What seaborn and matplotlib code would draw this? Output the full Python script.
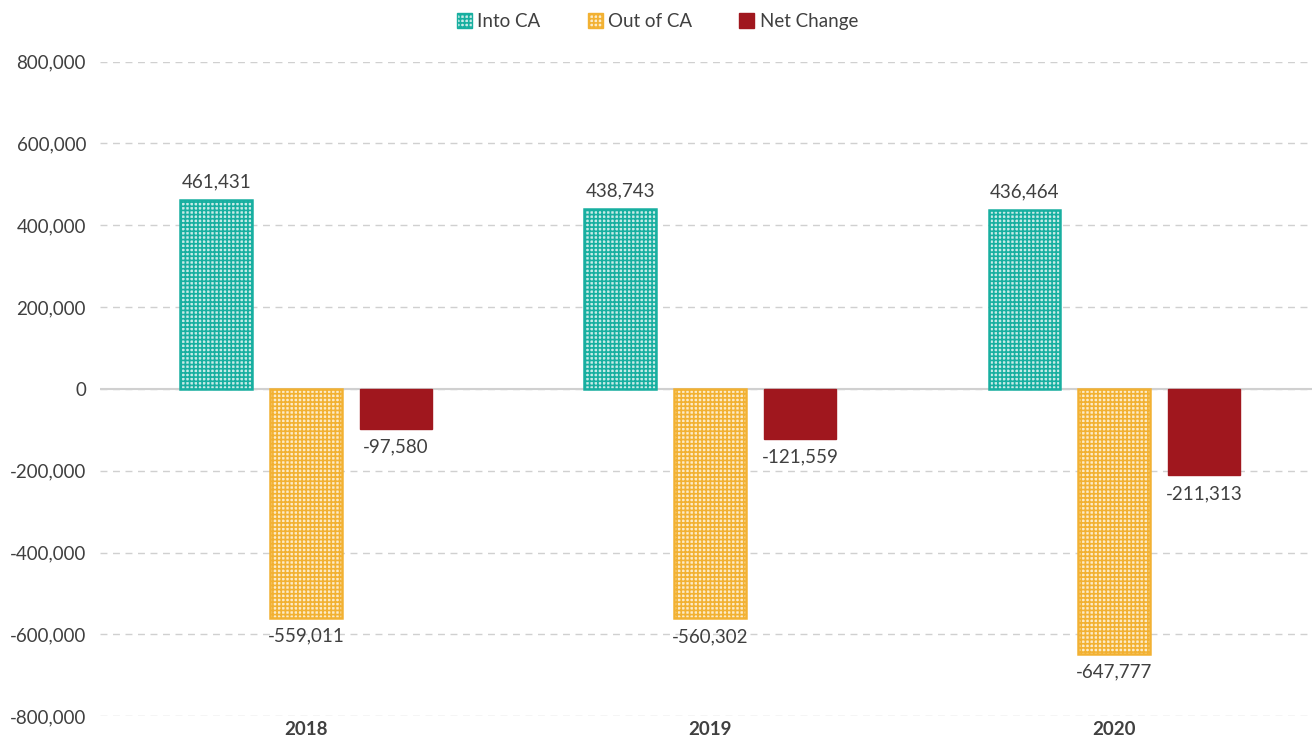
import pandas as pd
import seaborn as sns
import matplotlib.pyplot as plt
from matplotlib.patches import Patch
from matplotlib.ticker import FuncFormatter

years = ['2018', '2019', '2020']
into_ca = [461431, 438743, 436464]
out_of_ca = [-559011, -560302, -647777]
net_change = [-97580, -121559, -211313]

series_names = ['Into CA', 'Out of CA', 'Net Change']
colors = ['#17AFA0', '#F2B132', '#A0171E']
tints = ['#C8EBE7', '#FCEBC8', '#A0171E']
hatches = ['++++', '++++', None]

df = pd.DataFrame({'year': years, 'Into CA': into_ca,
                   'Out of CA': out_of_ca, 'Net Change': net_change})
long_df = df.melt(id_vars='year', var_name='series', value_name='value')

sns.set_style('white')
plt.rcParams['font.family'] = ['Lato', 'DejaVu Sans']
plt.rcParams['hatch.linewidth'] = 1.2

fig, ax = plt.subplots(figsize=(13.15, 7.5), dpi=100)
fig.subplots_adjust(left=0.076, right=0.998, top=0.918, bottom=0.045)

sns.barplot(data=long_df, x='year', y='value', hue='series', order=years,
            hue_order=series_names, palette=colors, width=0.667, gap=0.2,
            legend=False, ax=ax)

# bars come in hue order, one container per series
for cont, col, tint, hatch in zip(ax.containers, colors, tints, hatches):
    for bar in cont:
        bar.set_facecolor(tint)
        bar.set_edgecolor(col)
        if hatch:
            bar.set_hatch(hatch)
            bar.set_linewidth(1.8)
    labels = [f'{v:,.0f}' for v in cont.datavalues]
    ax.bar_label(cont, labels=labels, padding=7, fontsize=13.5, color='#404040')

ax.set_ylim(-800000, 800000)
ax.set_yticks(range(-800000, 800001, 200000))
ax.yaxis.set_major_formatter(FuncFormatter(lambda v, p: f'{v:,.0f}'))
ax.set_xlim(-0.51, 2.49)
ax.grid(axis='y', color='#D0D0D0', linestyle=(0, (5, 4)), linewidth=1)
ax.axhline(0, color='#D0D0D0', linewidth=1.5, zorder=0.5)
ax.set_axisbelow(True)
for s in ax.spines.values():
    s.set_visible(False)
ax.set_xlabel('')
ax.set_ylabel('')
ax.tick_params(axis='both', length=0, labelsize=13.5, labelcolor='#404040')
for t in ax.get_xticklabels():
    t.set_fontweight('bold')
ax.tick_params(axis='y', pad=10)

handles = [Patch(facecolor=t, edgecolor=c, hatch=h)
           for c, t, h in zip(colors, tints, hatches)]
fig.legend(handles, series_names, loc='upper center', ncol=3, frameon=False,
           bbox_to_anchor=(0.5, 1.005), fontsize=13.5, handlelength=0.8,
           handleheight=0.8, handletextpad=0.3, columnspacing=2.5,
           labelcolor='#404040')

fig.savefig('out.png', dpi=100)
